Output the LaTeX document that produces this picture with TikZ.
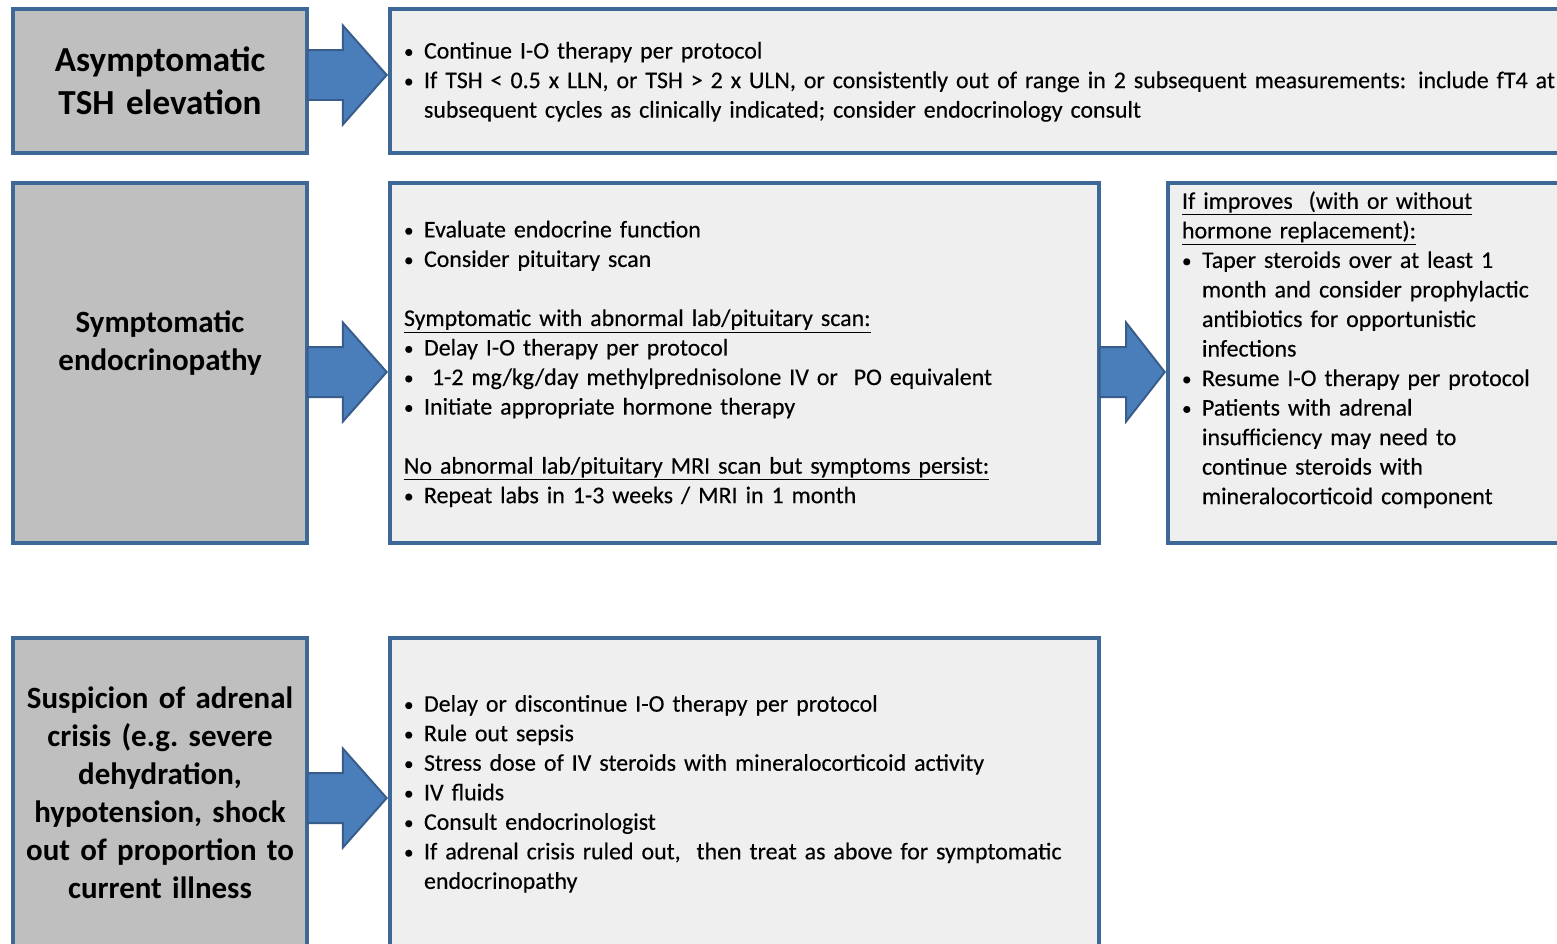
\documentclass[tikz,border=0pt]{standalone}
\usepackage{fontspec}
\setmainfont{Carlito}
\newfontfamily\bodyfont{Carlito}[FakeBold=0.3]
\usetikzlibrary{shapes.arrows,calc}

\definecolor{boxblue}{HTML}{3D6898}
\definecolor{labelgray}{HTML}{BFBFBF}
\definecolor{infogray}{HTML}{EFEFEF}
\definecolor{arrowblue}{HTML}{4A7EBB}
\definecolor{arrowedge}{HTML}{385D8A}

% bullet line, wrapped lines hang under the text
\newcommand{\bul}{\par\hangindent=0.5cm\hangafter=1\noindent
  \makebox[0.5cm][l]{\raisebox{0.5pt}{\scalebox{0.8}{\textbullet}}}}
% space kept below the last line of a box
\newcommand{\bottomgap}[1]{\par\vskip#1\hrule height0pt\relax}

\tikzset{
  labelbox/.style={draw=boxblue, line width=2.85pt, fill=labelgray, anchor=north west,
    minimum width=7.35cm, text width=6.9cm, align=center, font=\bfseries},
  infobox/.style={draw=boxblue, line width=2.85pt, fill=infogray, anchor=north west,
    inner xsep=0.35cm, align=left, font=\bodyfont\fontsize{17}{21}\selectfont},
  blockarrow/.style={single arrow, fill=arrowblue, draw=arrowedge, line width=1.4pt,
    inner xsep=0pt, inner ysep=0.6cm, single arrow head extend=0.6125cm, anchor=tip}
}

\begin{document}
\begin{tikzpicture}[x=0.025cm, y=-0.025cm]
\clip (0,0) rectangle (1557,944);
\fill[white] (0,0) rectangle (1557,944);

% left column
\node[labelbox, minimum height=3.6cm, font=\bfseries\fontsize{25}{30.6}\selectfont] (asym) at (11,7)
  {Asymptomatic\\TSH elevation};
\node[labelbox, minimum height=9cm, font=\bfseries\fontsize{22}{27}\selectfont] (symp) at (11,181)
  {Symptomatic\\endocrinopathy\\[0.15cm]\mbox{}};
\node[labelbox, minimum height=7.75cm, font=\bfseries\fontsize{22}{27}\selectfont] (crisis) at (11,636)
  {Suspicion of adrenal\\crisis (e.g.\ severe\\dehydration,\\hypotension, shock\\out of proportion to\\current illness};

% middle column
\node[infobox, minimum height=3.6cm, text width=29.5cm] (tsh) at (388,7) {%
\bul Continue I-O therapy per protocol
\bul If TSH < 0.5 x LLN, or TSH > 2 x ULN, or consistently out of range in 2 subsequent measurements: include fT4 at\newline
subsequent cycles as clinically indicated; consider endocrinology consult
\bottomgap{8pt}};

\node[infobox, minimum height=9cm, text width=17.025cm] (eval) at (388,181) {%
\bul Evaluate endocrine function
\bul Consider pituitary scan
\par\vspace{21pt}\noindent\underline{Symptomatic with abnormal lab/pituitary scan:}
\bul Delay I-O therapy per protocol
\bul \ 1-2 mg/kg/day methylprednisolone IV or \ PO equivalent
\bul Initiate appropriate hormone therapy
\par\vspace{21pt}\noindent\underline{No abnormal lab/pituitary MRI scan but symptoms persist:}
\bul Repeat labs in 1-3 weeks / MRI in 1 month
\bottomgap{8pt}};

\node[infobox, minimum height=7.75cm, text width=17.025cm] (care) at (388,636) {%
\bul Delay or discontinue I-O therapy per protocol
\bul Rule out sepsis
\bul Stress dose of IV steroids with mineralocorticoid activity
\bul IV fluids
\bul Consult endocrinologist
\bul If adrenal crisis ruled out, \ then treat as above for symptomatic\newline
endocrinopathy
\bottomgap{8pt}};

% right column
\node[infobox, minimum height=9cm, text width=10.05cm] (improve) at (1166,181) {%
\noindent\underline{If improves \ (with or without}\newline
\underline{hormone replacement):}
\bul Taper steroids over at least 1\newline
month and consider prophylactic\newline
antibiotics for opportunistic\newline
infections
\bul Resume I-O therapy per protocol
\bul Patients with adrenal\newline
insufficiency may need to\newline
continue steroids with\newline
mineralocorticoid component
\bottomgap{19pt}};

% block arrows
\node[blockarrow, minimum height=1.975cm, single arrow tip angle=97] (arrA) at ($(tsh.west)+(0,-6)$) {};
\node[blockarrow, minimum height=1.975cm, single arrow tip angle=97] (arrB) at ($(eval.west)+(0,9)$) {};
\node[blockarrow, minimum height=1.625cm, single arrow tip angle=104] (arrC) at ($(improve.west)+(0,9)$) {};
\node[blockarrow, minimum height=1.975cm, single arrow tip angle=97] (arrD) at ($(care.west)+(0,5)$) {};
\end{tikzpicture}
\end{document}
